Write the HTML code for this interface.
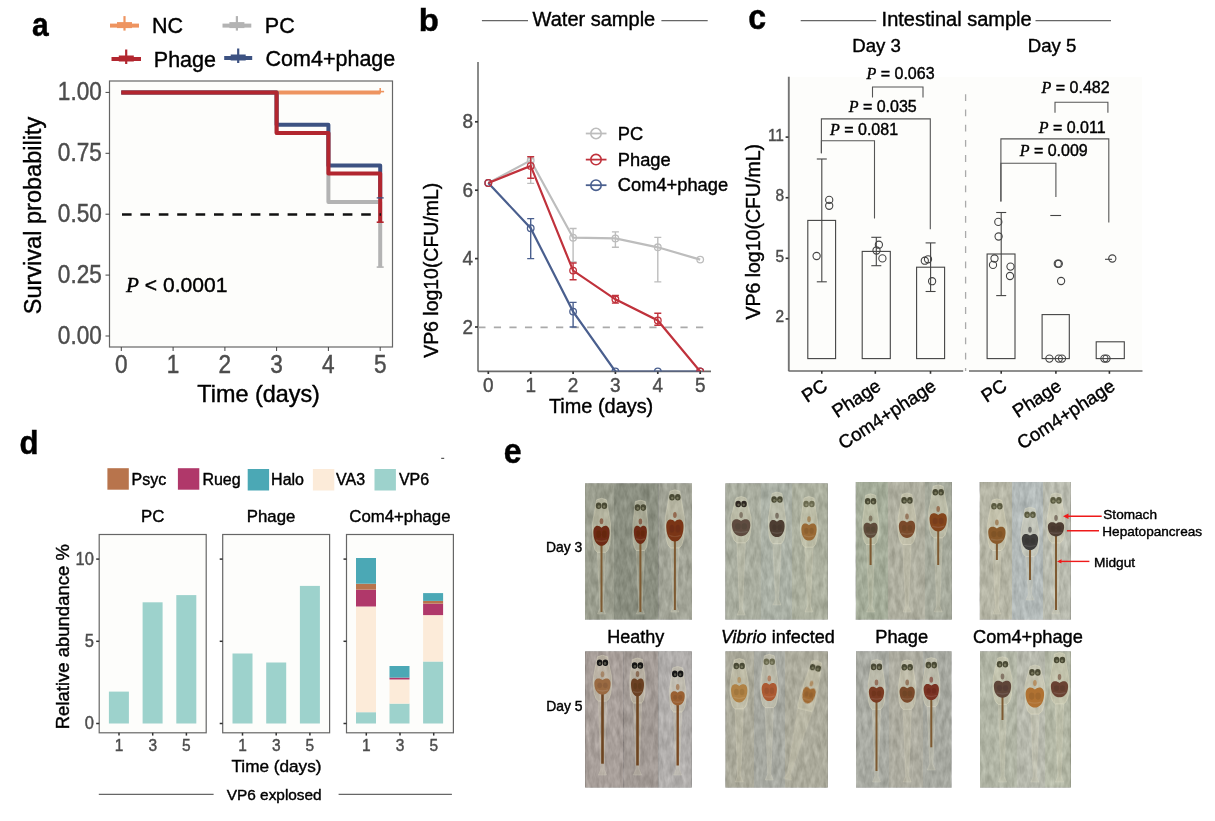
<!DOCTYPE html>
<html><head><meta charset="utf-8"><title>Figure</title>
<style>
html,body{margin:0;padding:0;background:#fff;}
svg{display:block;font-family:"Liberation Sans",Arial,sans-serif;}
</style></head><body>
<svg width="1215" height="821" viewBox="0 0 1215 821">
<rect width="1215" height="821" fill="#fff"/>
<text x="0" y="0" font-size="30" font-weight="bold" stroke="#000" stroke-width="0.4" transform="translate(31.9 36.3) scale(1.0 1.13)">a</text>
<text x="0" y="0" font-size="30" font-weight="bold" stroke="#000" stroke-width="0.4" transform="translate(418.7 30.6) scale(1.1 1.07)">b</text>
<text x="0" y="0" font-size="30" font-weight="bold" stroke="#000" stroke-width="0.4" transform="translate(748.2 29.3) scale(1.07 1.16)">c</text>
<text x="0" y="0" font-size="30" font-weight="bold" stroke="#000" stroke-width="0.4" transform="translate(19.6 453.6) scale(1.04 1.08)">d</text>
<text x="0" y="0" font-size="30" font-weight="bold" stroke="#000" stroke-width="0.4" transform="translate(503.7 463.4) scale(1.07 1.14)">e</text>
<rect x="109.5" y="81.0" width="283.0" height="266.0" fill="#fdfdfb" stroke="#666" stroke-width="1.2"/>
<line x1="105.5" y1="92.4" x2="109.5" y2="92.4" stroke="#444" stroke-width="1"/>
<text x="0" y="0" font-size="22.6" fill="#4d4d4d" stroke="#4d4d4d" stroke-width="0.4" text-anchor="end" transform="translate(101.8 100.0) scale(1 1.12)">1.00</text>
<line x1="105.5" y1="153.3" x2="109.5" y2="153.3" stroke="#444" stroke-width="1"/>
<text x="0" y="0" font-size="22.6" fill="#4d4d4d" stroke="#4d4d4d" stroke-width="0.4" text-anchor="end" transform="translate(101.8 160.9) scale(1 1.12)">0.75</text>
<line x1="105.5" y1="214.2" x2="109.5" y2="214.2" stroke="#444" stroke-width="1"/>
<text x="0" y="0" font-size="22.6" fill="#4d4d4d" stroke="#4d4d4d" stroke-width="0.4" text-anchor="end" transform="translate(101.8 221.8) scale(1 1.12)">0.50</text>
<line x1="105.5" y1="275.1" x2="109.5" y2="275.1" stroke="#444" stroke-width="1"/>
<text x="0" y="0" font-size="22.6" fill="#4d4d4d" stroke="#4d4d4d" stroke-width="0.4" text-anchor="end" transform="translate(101.8 282.7) scale(1 1.12)">0.25</text>
<line x1="105.5" y1="336.0" x2="109.5" y2="336.0" stroke="#444" stroke-width="1"/>
<text x="0" y="0" font-size="22.6" fill="#4d4d4d" stroke="#4d4d4d" stroke-width="0.4" text-anchor="end" transform="translate(101.8 343.6) scale(1 1.12)">0.00</text>
<line x1="121.3" y1="347.0" x2="121.3" y2="351.0" stroke="#444" stroke-width="1"/>
<text x="0" y="0" font-size="22.6" fill="#4d4d4d" stroke="#4d4d4d" stroke-width="0.4" text-anchor="middle" transform="translate(121.3 373.2) scale(1 1.12)">0</text>
<line x1="173.1" y1="347.0" x2="173.1" y2="351.0" stroke="#444" stroke-width="1"/>
<text x="0" y="0" font-size="22.6" fill="#4d4d4d" stroke="#4d4d4d" stroke-width="0.4" text-anchor="middle" transform="translate(173.1 373.2) scale(1 1.12)">1</text>
<line x1="224.9" y1="347.0" x2="224.9" y2="351.0" stroke="#444" stroke-width="1"/>
<text x="0" y="0" font-size="22.6" fill="#4d4d4d" stroke="#4d4d4d" stroke-width="0.4" text-anchor="middle" transform="translate(224.9 373.2) scale(1 1.12)">2</text>
<line x1="276.6" y1="347.0" x2="276.6" y2="351.0" stroke="#444" stroke-width="1"/>
<text x="0" y="0" font-size="22.6" fill="#4d4d4d" stroke="#4d4d4d" stroke-width="0.4" text-anchor="middle" transform="translate(276.6 373.2) scale(1 1.12)">3</text>
<line x1="328.4" y1="347.0" x2="328.4" y2="351.0" stroke="#444" stroke-width="1"/>
<text x="0" y="0" font-size="22.6" fill="#4d4d4d" stroke="#4d4d4d" stroke-width="0.4" text-anchor="middle" transform="translate(328.4 373.2) scale(1 1.12)">4</text>
<line x1="380.2" y1="347.0" x2="380.2" y2="351.0" stroke="#444" stroke-width="1"/>
<text x="0" y="0" font-size="22.6" fill="#4d4d4d" stroke="#4d4d4d" stroke-width="0.4" text-anchor="middle" transform="translate(380.2 373.2) scale(1 1.12)">5</text>
<text x="258.6" y="401.6" font-size="23.4" stroke="#000" stroke-width="0.4" text-anchor="middle">Time (days)</text>
<text x="40.5" y="215.5" font-size="23.55" stroke="#000" stroke-width="0.4" text-anchor="middle" transform="rotate(-90 40.5 215.5)">Survival probability</text>
<polyline points="121.3,92.4 380.2,92.4" fill="none" stroke="#ee9460" stroke-width="4"/>
<line x1="380.2" y1="87.9" x2="380.2" y2="93.4" stroke="#ee9460" stroke-width="1.6"/>
<line x1="378.5" y1="91.6" x2="384.1" y2="91.6" stroke="#ee9460" stroke-width="1.6"/>
<polyline points="121.3,92.4 276.6,92.4 276.6,133.1 328.4,133.1 328.4,202.0 380.2,202.0 380.2,267.1" fill="none" stroke="#b3b3b3" stroke-width="4" stroke-linejoin="round"/>
<polyline points="121.3,92.4 276.6,92.4 276.6,124.8 328.4,124.8 328.4,165.5 380.2,165.5 380.2,197.9" fill="none" stroke="#3d5282" stroke-width="4" stroke-linejoin="round"/>
<polyline points="121.3,92.4 276.6,92.4 276.6,133.1 328.4,133.1 328.4,173.5 380.2,173.5 380.2,222.2" fill="none" stroke="#b2262f" stroke-width="4" stroke-linejoin="round"/>
<line x1="376.7" y1="267.1" x2="383.7" y2="267.1" stroke="#b3b3b3" stroke-width="1.6"/>
<line x1="376.7" y1="197.9" x2="383.7" y2="197.9" stroke="#3d5282" stroke-width="1.3"/>
<line x1="376.7" y1="222.2" x2="383.7" y2="222.2" stroke="#b2262f" stroke-width="1.6"/>
<line x1="122.0" y1="214.5" x2="381.0" y2="214.5" stroke="#111" stroke-width="2.6" stroke-dasharray="9.6 8.8"/>
<text x="126" y="292" font-size="21.1" stroke="#000" stroke-width="0.4"><tspan font-family="Liberation Serif, Times New Roman, serif" font-style="italic">P</tspan> &lt; 0.0001</text>
<line x1="110.0" y1="25.6" x2="139.0" y2="25.6" stroke="#ee9460" stroke-width="4"/>
<line x1="117.0" y1="25.1" x2="132.0" y2="25.1" stroke="#ee9460" stroke-width="6"/>
<line x1="124.5" y1="16.1" x2="124.5" y2="30.6" stroke="#ee9460" stroke-width="2.2"/>
<text x="152.0" y="33.4" font-size="21.5" stroke="#000" stroke-width="0.4">NC</text>
<line x1="222.5" y1="25.6" x2="251.3" y2="25.6" stroke="#b3b3b3" stroke-width="4"/>
<line x1="229.4" y1="25.1" x2="244.4" y2="25.1" stroke="#b3b3b3" stroke-width="6"/>
<line x1="236.9" y1="16.1" x2="236.9" y2="30.6" stroke="#b3b3b3" stroke-width="2.2"/>
<text x="264.8" y="33.4" font-size="21.5" stroke="#000" stroke-width="0.4">PC</text>
<line x1="111.5" y1="59.0" x2="141.0" y2="59.0" stroke="#b2262f" stroke-width="4"/>
<line x1="118.8" y1="58.5" x2="133.8" y2="58.5" stroke="#b2262f" stroke-width="6"/>
<line x1="126.2" y1="49.5" x2="126.2" y2="64.0" stroke="#b2262f" stroke-width="2.2"/>
<text x="153.8" y="66.5" font-size="21.5" stroke="#000" stroke-width="0.4">Phage</text>
<line x1="224.2" y1="58.0" x2="252.2" y2="58.0" stroke="#3d5282" stroke-width="4"/>
<line x1="230.7" y1="57.5" x2="245.7" y2="57.5" stroke="#3d5282" stroke-width="6"/>
<line x1="238.2" y1="48.5" x2="238.2" y2="63.0" stroke="#3d5282" stroke-width="2.2"/>
<text x="265.6" y="66.2" font-size="21.5" stroke="#000" stroke-width="0.4">Com4+phage</text>
<line x1="481.9" y1="20.6" x2="528.0" y2="20.6" stroke="#666" stroke-width="1.3"/>
<line x1="661.4" y1="20.6" x2="707.7" y2="20.6" stroke="#666" stroke-width="1.3"/>
<text x="532.6" y="26.3" font-size="20" stroke="#000" stroke-width="0.4">Water sample</text>
<line x1="478.0" y1="62.0" x2="478.0" y2="371.4" stroke="#8a8b8a" stroke-width="2"/>
<line x1="478.0" y1="371.4" x2="711.0" y2="371.4" stroke="#6a6a6a" stroke-width="1.6"/>
<line x1="475.0" y1="327.0" x2="478.0" y2="327.0" stroke="#333" stroke-width="1.7"/>
<text x="0" y="0" font-size="19" fill="#4d4d4d" stroke="#4d4d4d" stroke-width="0.4" text-anchor="end" transform="translate(473.0 333.6) scale(1 1.1)">2</text>
<line x1="475.0" y1="258.6" x2="478.0" y2="258.6" stroke="#333" stroke-width="1.7"/>
<text x="0" y="0" font-size="19" fill="#4d4d4d" stroke="#4d4d4d" stroke-width="0.4" text-anchor="end" transform="translate(473.0 265.2) scale(1 1.1)">4</text>
<line x1="475.0" y1="190.2" x2="478.0" y2="190.2" stroke="#333" stroke-width="1.7"/>
<text x="0" y="0" font-size="19" fill="#4d4d4d" stroke="#4d4d4d" stroke-width="0.4" text-anchor="end" transform="translate(473.0 196.8) scale(1 1.1)">6</text>
<line x1="475.0" y1="121.8" x2="478.0" y2="121.8" stroke="#333" stroke-width="1.7"/>
<text x="0" y="0" font-size="19" fill="#4d4d4d" stroke="#4d4d4d" stroke-width="0.4" text-anchor="end" transform="translate(473.0 128.4) scale(1 1.1)">8</text>
<line x1="488.3" y1="371.4" x2="488.3" y2="374.0" stroke="#333" stroke-width="1.7"/>
<text x="0" y="0" font-size="19" fill="#4d4d4d" stroke="#4d4d4d" stroke-width="0.4" text-anchor="middle" transform="translate(488.3 392.3) scale(1 1.1)">0</text>
<line x1="530.7" y1="371.4" x2="530.7" y2="374.0" stroke="#333" stroke-width="1.7"/>
<text x="0" y="0" font-size="19" fill="#4d4d4d" stroke="#4d4d4d" stroke-width="0.4" text-anchor="middle" transform="translate(530.7 392.3) scale(1 1.1)">1</text>
<line x1="573.1" y1="371.4" x2="573.1" y2="374.0" stroke="#333" stroke-width="1.7"/>
<text x="0" y="0" font-size="19" fill="#4d4d4d" stroke="#4d4d4d" stroke-width="0.4" text-anchor="middle" transform="translate(573.1 392.3) scale(1 1.1)">2</text>
<line x1="615.4" y1="371.4" x2="615.4" y2="374.0" stroke="#333" stroke-width="1.7"/>
<text x="0" y="0" font-size="19" fill="#4d4d4d" stroke="#4d4d4d" stroke-width="0.4" text-anchor="middle" transform="translate(615.4 392.3) scale(1 1.1)">3</text>
<line x1="657.8" y1="371.4" x2="657.8" y2="374.0" stroke="#333" stroke-width="1.7"/>
<text x="0" y="0" font-size="19" fill="#4d4d4d" stroke="#4d4d4d" stroke-width="0.4" text-anchor="middle" transform="translate(657.8 392.3) scale(1 1.1)">4</text>
<line x1="700.2" y1="371.4" x2="700.2" y2="374.0" stroke="#333" stroke-width="1.7"/>
<text x="0" y="0" font-size="19" fill="#4d4d4d" stroke="#4d4d4d" stroke-width="0.4" text-anchor="middle" transform="translate(700.2 392.3) scale(1 1.1)">5</text>
<text x="601.1" y="413.3" font-size="19.9" stroke="#000" stroke-width="0.4" text-anchor="middle">Time (days)</text>
<text x="438.4" y="270.3" font-size="19.45" stroke="#000" stroke-width="0.4" text-anchor="middle" transform="rotate(-90 438.4 270.3)">VP6 log10(CFU/mL)</text>
<line x1="478.3" y1="327.3" x2="711.0" y2="327.3" stroke="#aaa" stroke-width="1.7" stroke-dasharray="7.2 8.35"/>
<clipPath id="cb"><rect x="470" y="50" width="260" height="321.6"/></clipPath><g clip-path="url(#cb)">
<line x1="530.7" y1="158.7" x2="530.7" y2="183.4" stroke="#bdbdbd" stroke-width="1.4"/>
<line x1="527.2" y1="158.7" x2="534.2" y2="158.7" stroke="#bdbdbd" stroke-width="1.4"/>
<line x1="527.2" y1="183.4" x2="534.2" y2="183.4" stroke="#bdbdbd" stroke-width="1.4"/>
<line x1="573.1" y1="228.5" x2="573.1" y2="262.0" stroke="#bdbdbd" stroke-width="1.4"/>
<line x1="569.6" y1="228.5" x2="576.6" y2="228.5" stroke="#bdbdbd" stroke-width="1.4"/>
<line x1="569.6" y1="262.0" x2="576.6" y2="262.0" stroke="#bdbdbd" stroke-width="1.4"/>
<line x1="615.4" y1="231.9" x2="615.4" y2="247.3" stroke="#bdbdbd" stroke-width="1.4"/>
<line x1="611.9" y1="231.9" x2="618.9" y2="231.9" stroke="#bdbdbd" stroke-width="1.4"/>
<line x1="611.9" y1="247.3" x2="618.9" y2="247.3" stroke="#bdbdbd" stroke-width="1.4"/>
<line x1="657.8" y1="237.4" x2="657.8" y2="281.9" stroke="#bdbdbd" stroke-width="1.4"/>
<line x1="654.3" y1="237.4" x2="661.3" y2="237.4" stroke="#bdbdbd" stroke-width="1.4"/>
<line x1="654.3" y1="281.9" x2="661.3" y2="281.9" stroke="#bdbdbd" stroke-width="1.4"/>
<polyline points="488.3,183.0 530.7,160.4 573.1,237.7 615.4,238.4 657.8,247.3 700.2,259.6" fill="none" stroke="#bdbdbd" stroke-width="2.2"/>
<circle cx="488.3" cy="183.0" r="3.3" fill="none" stroke="#bdbdbd" stroke-width="1.3"/>
<circle cx="530.7" cy="160.4" r="3.3" fill="none" stroke="#bdbdbd" stroke-width="1.3"/>
<circle cx="573.1" cy="237.7" r="3.3" fill="none" stroke="#bdbdbd" stroke-width="1.3"/>
<circle cx="615.4" cy="238.4" r="3.3" fill="none" stroke="#bdbdbd" stroke-width="1.3"/>
<circle cx="657.8" cy="247.3" r="3.3" fill="none" stroke="#bdbdbd" stroke-width="1.3"/>
<circle cx="700.2" cy="259.6" r="3.3" fill="none" stroke="#bdbdbd" stroke-width="1.3"/>
<line x1="530.7" y1="218.6" x2="530.7" y2="258.6" stroke="#4a5f8e" stroke-width="1.4"/>
<line x1="527.2" y1="218.6" x2="534.2" y2="218.6" stroke="#4a5f8e" stroke-width="1.4"/>
<line x1="527.2" y1="258.6" x2="534.2" y2="258.6" stroke="#4a5f8e" stroke-width="1.4"/>
<line x1="573.1" y1="302.4" x2="573.1" y2="327.0" stroke="#4a5f8e" stroke-width="1.4"/>
<line x1="569.6" y1="302.4" x2="576.6" y2="302.4" stroke="#4a5f8e" stroke-width="1.4"/>
<line x1="569.6" y1="327.0" x2="576.6" y2="327.0" stroke="#4a5f8e" stroke-width="1.4"/>
<polyline points="488.3,183.0 530.7,228.2 573.1,311.6 615.4,371.5 657.8,371.5 700.2,371.5" fill="none" stroke="#4a5f8e" stroke-width="2.2"/>
<circle cx="488.3" cy="183.0" r="3.3" fill="none" stroke="#4a5f8e" stroke-width="1.3"/>
<circle cx="530.7" cy="228.2" r="3.3" fill="none" stroke="#4a5f8e" stroke-width="1.3"/>
<circle cx="573.1" cy="311.6" r="3.3" fill="none" stroke="#4a5f8e" stroke-width="1.3"/>
<circle cx="615.4" cy="371.5" r="3.3" fill="none" stroke="#4a5f8e" stroke-width="1.3"/>
<circle cx="657.8" cy="371.5" r="3.3" fill="none" stroke="#4a5f8e" stroke-width="1.3"/>
<circle cx="700.2" cy="371.5" r="3.3" fill="none" stroke="#4a5f8e" stroke-width="1.3"/>
<line x1="530.7" y1="156.7" x2="530.7" y2="178.2" stroke="#c0323c" stroke-width="1.4"/>
<line x1="527.2" y1="156.7" x2="534.2" y2="156.7" stroke="#c0323c" stroke-width="1.4"/>
<line x1="527.2" y1="178.2" x2="534.2" y2="178.2" stroke="#c0323c" stroke-width="1.4"/>
<line x1="573.1" y1="263.0" x2="573.1" y2="279.8" stroke="#c0323c" stroke-width="1.4"/>
<line x1="569.6" y1="263.0" x2="576.6" y2="263.0" stroke="#c0323c" stroke-width="1.4"/>
<line x1="569.6" y1="279.8" x2="576.6" y2="279.8" stroke="#c0323c" stroke-width="1.4"/>
<line x1="615.4" y1="295.5" x2="615.4" y2="303.1" stroke="#c0323c" stroke-width="1.4"/>
<line x1="611.9" y1="295.5" x2="618.9" y2="295.5" stroke="#c0323c" stroke-width="1.4"/>
<line x1="611.9" y1="303.1" x2="618.9" y2="303.1" stroke="#c0323c" stroke-width="1.4"/>
<line x1="657.8" y1="313.3" x2="657.8" y2="325.3" stroke="#c0323c" stroke-width="1.4"/>
<line x1="654.3" y1="313.3" x2="661.3" y2="313.3" stroke="#c0323c" stroke-width="1.4"/>
<line x1="654.3" y1="325.3" x2="661.3" y2="325.3" stroke="#c0323c" stroke-width="1.4"/>
<polyline points="488.3,183.0 530.7,165.9 573.1,270.6 615.4,299.3 657.8,320.5 700.2,371.5" fill="none" stroke="#c0323c" stroke-width="2.2"/>
<circle cx="488.3" cy="183.0" r="3.3" fill="none" stroke="#c0323c" stroke-width="1.3"/>
<circle cx="530.7" cy="165.9" r="3.3" fill="none" stroke="#c0323c" stroke-width="1.3"/>
<circle cx="573.1" cy="270.6" r="3.3" fill="none" stroke="#c0323c" stroke-width="1.3"/>
<circle cx="615.4" cy="299.3" r="3.3" fill="none" stroke="#c0323c" stroke-width="1.3"/>
<circle cx="657.8" cy="320.5" r="3.3" fill="none" stroke="#c0323c" stroke-width="1.3"/>
<circle cx="700.2" cy="371.5" r="3.3" fill="none" stroke="#c0323c" stroke-width="1.3"/>
</g>
<line x1="585.8" y1="133.5" x2="606.5" y2="133.5" stroke="#bdbdbd" stroke-width="1.8"/>
<circle cx="596.0" cy="133.5" r="5.2" fill="none" stroke="#bdbdbd" stroke-width="1.6"/>
<text x="617.8" y="139.7" font-size="18.3" stroke="#000" stroke-width="0.4">PC</text>
<line x1="585.8" y1="159.6" x2="606.5" y2="159.6" stroke="#c0323c" stroke-width="1.8"/>
<circle cx="596.0" cy="159.6" r="5.2" fill="none" stroke="#c0323c" stroke-width="1.6"/>
<text x="617.8" y="165.8" font-size="18.3" stroke="#000" stroke-width="0.4">Phage</text>
<line x1="585.8" y1="185.2" x2="606.5" y2="185.2" stroke="#4a5f8e" stroke-width="1.8"/>
<circle cx="596.0" cy="185.2" r="5.2" fill="none" stroke="#4a5f8e" stroke-width="1.6"/>
<text x="617.8" y="191.4" font-size="18.3" stroke="#000" stroke-width="0.4">Com4+phage</text>
<line x1="800.7" y1="20.7" x2="876.2" y2="20.7" stroke="#666" stroke-width="1.3"/>
<line x1="1035.5" y1="20.7" x2="1111.0" y2="20.7" stroke="#666" stroke-width="1.3"/>
<text x="881.6" y="25.8" font-size="20" stroke="#000" stroke-width="0.4">Intestinal sample</text>
<text x="876.5" y="51.9" font-size="18.6" stroke="#000" stroke-width="0.4" text-anchor="middle">Day 3</text>
<text x="1052.0" y="51.9" font-size="18.6" stroke="#000" stroke-width="0.4" text-anchor="middle">Day 5</text>
<rect x="789.0" y="77.0" width="353.0" height="294.0" fill="#fdfdfb"/>
<line x1="788.8" y1="76.8" x2="788.8" y2="371.0" stroke="#747474" stroke-width="1.9"/>
<line x1="788.5" y1="371.0" x2="963.2" y2="371.0" stroke="#6a6a6a" stroke-width="1.6"/>
<line x1="969.0" y1="371.0" x2="1142.5" y2="371.0" stroke="#6a6a6a" stroke-width="1.6"/>
<line x1="785.6" y1="318.9" x2="788.5" y2="318.9" stroke="#333" stroke-width="1.6"/>
<text x="0" y="0" font-size="15.5" fill="#4d4d4d" stroke="#4d4d4d" stroke-width="0.4" text-anchor="end" transform="translate(784.0 322.3) scale(1 1.08)">2</text>
<line x1="785.6" y1="258.3" x2="788.5" y2="258.3" stroke="#333" stroke-width="1.6"/>
<text x="0" y="0" font-size="15.5" fill="#4d4d4d" stroke="#4d4d4d" stroke-width="0.4" text-anchor="end" transform="translate(784.0 261.7) scale(1 1.08)">5</text>
<line x1="785.6" y1="197.7" x2="788.5" y2="197.7" stroke="#333" stroke-width="1.6"/>
<text x="0" y="0" font-size="15.5" fill="#4d4d4d" stroke="#4d4d4d" stroke-width="0.4" text-anchor="end" transform="translate(784.0 201.1) scale(1 1.08)">8</text>
<line x1="785.6" y1="137.1" x2="788.5" y2="137.1" stroke="#333" stroke-width="1.6"/>
<text x="0" y="0" font-size="15.5" fill="#4d4d4d" stroke="#4d4d4d" stroke-width="0.4" text-anchor="end" transform="translate(784.0 140.5) scale(1 1.08)">11</text>
<text x="759.6" y="231.8" font-size="19.5" stroke="#000" stroke-width="0.4" text-anchor="middle" transform="rotate(-90 759.6 231.8)">VP6 log10(CFU/mL)</text>
<line x1="965.6" y1="94.3" x2="965.6" y2="371.0" stroke="#aaa" stroke-width="1.3" stroke-dasharray="6.8 8.4"/>
<line x1="821.8" y1="371.0" x2="821.8" y2="373.8" stroke="#333" stroke-width="1.6"/>
<line x1="875.3" y1="371.0" x2="875.3" y2="373.8" stroke="#333" stroke-width="1.6"/>
<line x1="930.5" y1="371.0" x2="930.5" y2="373.8" stroke="#333" stroke-width="1.6"/>
<line x1="1001.2" y1="371.0" x2="1001.2" y2="373.8" stroke="#333" stroke-width="1.6"/>
<line x1="1055.9" y1="371.0" x2="1055.9" y2="373.8" stroke="#333" stroke-width="1.6"/>
<line x1="1109.4" y1="371.0" x2="1109.4" y2="373.8" stroke="#333" stroke-width="1.6"/>
<rect x="807.8" y="220.4" width="27.8" height="138.2" fill="none" stroke="#444" stroke-width="1.1"/>
<line x1="821.8" y1="159.0" x2="821.8" y2="281.8" stroke="#444" stroke-width="1.1"/>
<line x1="816.8" y1="159.0" x2="826.8" y2="159.0" stroke="#444" stroke-width="1.1"/>
<line x1="816.8" y1="281.8" x2="826.8" y2="281.8" stroke="#444" stroke-width="1.1"/>
<rect x="862.2" y="251.4" width="28.1" height="107.2" fill="none" stroke="#444" stroke-width="1.1"/>
<line x1="876.3" y1="237.3" x2="876.3" y2="265.7" stroke="#444" stroke-width="1.1"/>
<line x1="871.3" y1="237.3" x2="881.3" y2="237.3" stroke="#444" stroke-width="1.1"/>
<line x1="871.3" y1="265.7" x2="881.3" y2="265.7" stroke="#444" stroke-width="1.1"/>
<rect x="916.6" y="267.2" width="28.0" height="91.4" fill="none" stroke="#444" stroke-width="1.1"/>
<line x1="930.6" y1="242.9" x2="930.6" y2="291.5" stroke="#444" stroke-width="1.1"/>
<line x1="925.6" y1="242.9" x2="935.6" y2="242.9" stroke="#444" stroke-width="1.1"/>
<line x1="925.6" y1="291.5" x2="935.6" y2="291.5" stroke="#444" stroke-width="1.1"/>
<rect x="987.1" y="254.0" width="27.9" height="104.6" fill="none" stroke="#444" stroke-width="1.1"/>
<line x1="1001.2" y1="212.5" x2="1001.2" y2="295.6" stroke="#444" stroke-width="1.1"/>
<line x1="996.2" y1="212.5" x2="1006.2" y2="212.5" stroke="#444" stroke-width="1.1"/>
<line x1="996.2" y1="295.6" x2="1006.2" y2="295.6" stroke="#444" stroke-width="1.1"/>
<rect x="1042.1" y="314.6" width="27.2" height="44.0" fill="none" stroke="#444" stroke-width="1.1"/>
<line x1="1050.3" y1="215.5" x2="1061.1" y2="215.5" stroke="#444" stroke-width="1.1"/>
<rect x="1096.2" y="341.8" width="28.1" height="16.8" fill="none" stroke="#444" stroke-width="1.1"/>
<line x1="1105.0" y1="259.3" x2="1112.0" y2="259.3" stroke="#444" stroke-width="1.1"/>
<circle cx="829.2" cy="199.9" r="3.6" fill="none" stroke="#444" stroke-width="1.1"/>
<circle cx="829.2" cy="205.8" r="3.6" fill="none" stroke="#444" stroke-width="1.1"/>
<circle cx="816.6" cy="256.0" r="3.6" fill="none" stroke="#444" stroke-width="1.1"/>
<circle cx="878.9" cy="244.7" r="3.6" fill="none" stroke="#444" stroke-width="1.1"/>
<circle cx="876.5" cy="250.5" r="3.6" fill="none" stroke="#444" stroke-width="1.1"/>
<circle cx="882.4" cy="258.4" r="3.6" fill="none" stroke="#444" stroke-width="1.1"/>
<circle cx="924.8" cy="260.7" r="3.6" fill="none" stroke="#444" stroke-width="1.1"/>
<circle cx="928.0" cy="259.3" r="3.6" fill="none" stroke="#444" stroke-width="1.1"/>
<circle cx="932.1" cy="281.2" r="3.6" fill="none" stroke="#444" stroke-width="1.1"/>
<circle cx="998.3" cy="221.9" r="3.6" fill="none" stroke="#444" stroke-width="1.1"/>
<circle cx="998.6" cy="236.5" r="3.6" fill="none" stroke="#444" stroke-width="1.1"/>
<circle cx="994.5" cy="258.5" r="3.6" fill="none" stroke="#444" stroke-width="1.1"/>
<circle cx="993.0" cy="264.9" r="3.6" fill="none" stroke="#444" stroke-width="1.1"/>
<circle cx="1010.5" cy="266.6" r="3.6" fill="none" stroke="#444" stroke-width="1.1"/>
<circle cx="1010.0" cy="276.0" r="3.6" fill="none" stroke="#444" stroke-width="1.1"/>
<circle cx="1058.8" cy="263.7" r="3.6" fill="none" stroke="#444" stroke-width="1.1"/>
<circle cx="1057.8" cy="263.7" r="3.6" fill="none" stroke="#444" stroke-width="1.1"/>
<circle cx="1061.1" cy="281.0" r="3.6" fill="none" stroke="#444" stroke-width="1.1"/>
<circle cx="1049.4" cy="358.6" r="3.6" fill="none" stroke="#444" stroke-width="1.1"/>
<circle cx="1058.8" cy="358.6" r="3.6" fill="none" stroke="#444" stroke-width="1.1"/>
<circle cx="1062.0" cy="358.6" r="3.6" fill="none" stroke="#444" stroke-width="1.1"/>
<circle cx="1112.3" cy="258.5" r="3.6" fill="none" stroke="#444" stroke-width="1.1"/>
<circle cx="1104.4" cy="358.6" r="3.6" fill="none" stroke="#444" stroke-width="1.1"/>
<circle cx="1106.5" cy="358.6" r="3.6" fill="none" stroke="#444" stroke-width="1.1"/>
<polyline points="872.5,97.5 872.5,87.0 923.0,87.0 923.0,97.5" fill="none" stroke="#555" stroke-width="1.1"/>
<polyline points="821.4,153.2 821.4,118.9 930.3,118.9 930.3,229.2" fill="none" stroke="#555" stroke-width="1.1"/>
<polyline points="821.4,153.2 821.4,140.8 874.5,140.8 874.5,218.4" fill="none" stroke="#555" stroke-width="1.1"/>
<polyline points="1055.0,112.8 1055.0,102.3 1107.9,102.3 1107.9,112.8" fill="none" stroke="#555" stroke-width="1.1"/>
<polyline points="1000.9,201.4 1000.9,138.9 1108.8,138.9 1108.8,222.5" fill="none" stroke="#555" stroke-width="1.1"/>
<polyline points="1000.9,201.4 1000.9,163.2 1055.9,163.2 1055.9,197.0" fill="none" stroke="#555" stroke-width="1.1"/>
<text x="866.5" y="79.2" font-size="16" stroke="#000" stroke-width="0.4"><tspan font-family="Liberation Serif, Times New Roman, serif" font-style="italic">P</tspan> = 0.063</text>
<text x="848.7" y="112.0" font-size="16" stroke="#000" stroke-width="0.4"><tspan font-family="Liberation Serif, Times New Roman, serif" font-style="italic">P</tspan> = 0.035</text>
<text x="830.0" y="135.2" font-size="16" stroke="#000" stroke-width="0.4"><tspan font-family="Liberation Serif, Times New Roman, serif" font-style="italic">P</tspan> = 0.081</text>
<text x="1041.6" y="93.3" font-size="16" stroke="#000" stroke-width="0.4"><tspan font-family="Liberation Serif, Times New Roman, serif" font-style="italic">P</tspan> = 0.482</text>
<text x="1038.7" y="132.8" font-size="16" stroke="#000" stroke-width="0.4"><tspan font-family="Liberation Serif, Times New Roman, serif" font-style="italic">P</tspan> = 0.011</text>
<text x="1019.7" y="155.9" font-size="16" stroke="#000" stroke-width="0.4"><tspan font-family="Liberation Serif, Times New Roman, serif" font-style="italic">P</tspan> = 0.009</text>
<text x="828.8" y="389.0" font-size="18.6" stroke="#000" stroke-width="0.4" text-anchor="end" transform="rotate(-33 828.8 389.0)">PC</text>
<text x="882.3" y="389.0" font-size="18.6" stroke="#000" stroke-width="0.4" text-anchor="end" transform="rotate(-33 882.3 389.0)">Phage</text>
<text x="937.5" y="389.0" font-size="18.6" stroke="#000" stroke-width="0.4" text-anchor="end" transform="rotate(-33 937.5 389.0)">Com4+phage</text>
<text x="1008.2" y="389.0" font-size="18.6" stroke="#000" stroke-width="0.4" text-anchor="end" transform="rotate(-33 1008.2 389.0)">PC</text>
<text x="1062.9" y="389.0" font-size="18.6" stroke="#000" stroke-width="0.4" text-anchor="end" transform="rotate(-33 1062.9 389.0)">Phage</text>
<text x="1116.4" y="389.0" font-size="18.6" stroke="#000" stroke-width="0.4" text-anchor="end" transform="rotate(-33 1116.4 389.0)">Com4+phage</text>
<rect x="107.4" y="468.2" width="21.4" height="21.5" fill="#b8744c"/>
<text x="131.6" y="484.7" font-size="16" stroke="#000" stroke-width="0.4">Psyc</text>
<rect x="177.9" y="468.2" width="21.4" height="21.5" fill="#b0386a"/>
<text x="202.4" y="484.7" font-size="16" stroke="#000" stroke-width="0.4">Rueg</text>
<rect x="247.7" y="469.0" width="21.4" height="21.5" fill="#4ba8b5"/>
<text x="271.1" y="484.7" font-size="16" stroke="#000" stroke-width="0.4">Halo</text>
<rect x="312.9" y="469.0" width="21.4" height="21.5" fill="#fcebd9"/>
<text x="336.0" y="484.7" font-size="16" stroke="#000" stroke-width="0.4">VA3</text>
<rect x="374.5" y="469.0" width="21.4" height="21.5" fill="#9dd2cc"/>
<text x="398.9" y="484.7" font-size="16" stroke="#000" stroke-width="0.4">VP6</text>
<line x1="441.2" y1="458.3" x2="444.2" y2="458.3" stroke="#333" stroke-width="1"/>
<rect x="99.2" y="534.5" width="107.0" height="198.3" fill="#fdfdfb" stroke="#666" stroke-width="1.2"/>
<text x="152.7" y="521.9" font-size="16.8" stroke="#000" stroke-width="0.4" text-anchor="middle">PC</text>
<line x1="96.2" y1="723.5" x2="99.2" y2="723.5" stroke="#333" stroke-width="1.5"/>
<line x1="96.2" y1="641.3" x2="99.2" y2="641.3" stroke="#333" stroke-width="1.5"/>
<line x1="96.2" y1="559.1" x2="99.2" y2="559.1" stroke="#333" stroke-width="1.5"/>
<line x1="119.0" y1="732.8" x2="119.0" y2="735.6" stroke="#333" stroke-width="1.5"/>
<text x="0" y="0" font-size="15.5" fill="#4d4d4d" stroke="#4d4d4d" stroke-width="0.4" text-anchor="middle" transform="translate(119.0 750.9) scale(1 1.1)">1</text>
<line x1="152.7" y1="732.8" x2="152.7" y2="735.6" stroke="#333" stroke-width="1.5"/>
<text x="0" y="0" font-size="15.5" fill="#4d4d4d" stroke="#4d4d4d" stroke-width="0.4" text-anchor="middle" transform="translate(152.7 750.9) scale(1 1.1)">3</text>
<line x1="186.4" y1="732.8" x2="186.4" y2="735.6" stroke="#333" stroke-width="1.5"/>
<text x="0" y="0" font-size="15.5" fill="#4d4d4d" stroke="#4d4d4d" stroke-width="0.4" text-anchor="middle" transform="translate(186.4 750.9) scale(1 1.1)">5</text>
<rect x="222.7" y="534.5" width="106.9" height="198.3" fill="#fdfdfb" stroke="#666" stroke-width="1.2"/>
<text x="271.1" y="521.9" font-size="16.8" stroke="#000" stroke-width="0.4" text-anchor="middle">Phage</text>
<line x1="219.7" y1="723.5" x2="222.7" y2="723.5" stroke="#333" stroke-width="1.5"/>
<line x1="219.7" y1="641.3" x2="222.7" y2="641.3" stroke="#333" stroke-width="1.5"/>
<line x1="219.7" y1="559.1" x2="222.7" y2="559.1" stroke="#333" stroke-width="1.5"/>
<line x1="242.5" y1="732.8" x2="242.5" y2="735.6" stroke="#333" stroke-width="1.5"/>
<text x="0" y="0" font-size="15.5" fill="#4d4d4d" stroke="#4d4d4d" stroke-width="0.4" text-anchor="middle" transform="translate(242.5 750.9) scale(1 1.1)">1</text>
<line x1="276.2" y1="732.8" x2="276.2" y2="735.6" stroke="#333" stroke-width="1.5"/>
<text x="0" y="0" font-size="15.5" fill="#4d4d4d" stroke="#4d4d4d" stroke-width="0.4" text-anchor="middle" transform="translate(276.2 750.9) scale(1 1.1)">3</text>
<line x1="309.9" y1="732.8" x2="309.9" y2="735.6" stroke="#333" stroke-width="1.5"/>
<text x="0" y="0" font-size="15.5" fill="#4d4d4d" stroke="#4d4d4d" stroke-width="0.4" text-anchor="middle" transform="translate(309.9 750.9) scale(1 1.1)">5</text>
<rect x="346.5" y="534.5" width="106.9" height="198.3" fill="#fdfdfb" stroke="#666" stroke-width="1.2"/>
<text x="399.9" y="521.9" font-size="16.8" stroke="#000" stroke-width="0.4" text-anchor="middle">Com4+phage</text>
<line x1="343.5" y1="723.5" x2="346.5" y2="723.5" stroke="#333" stroke-width="1.5"/>
<line x1="343.5" y1="641.3" x2="346.5" y2="641.3" stroke="#333" stroke-width="1.5"/>
<line x1="343.5" y1="559.1" x2="346.5" y2="559.1" stroke="#333" stroke-width="1.5"/>
<line x1="366.3" y1="732.8" x2="366.3" y2="735.6" stroke="#333" stroke-width="1.5"/>
<text x="0" y="0" font-size="15.5" fill="#4d4d4d" stroke="#4d4d4d" stroke-width="0.4" text-anchor="middle" transform="translate(366.3 750.9) scale(1 1.1)">1</text>
<line x1="400.0" y1="732.8" x2="400.0" y2="735.6" stroke="#333" stroke-width="1.5"/>
<text x="0" y="0" font-size="15.5" fill="#4d4d4d" stroke="#4d4d4d" stroke-width="0.4" text-anchor="middle" transform="translate(400.0 750.9) scale(1 1.1)">3</text>
<line x1="433.7" y1="732.8" x2="433.7" y2="735.6" stroke="#333" stroke-width="1.5"/>
<text x="0" y="0" font-size="15.5" fill="#4d4d4d" stroke="#4d4d4d" stroke-width="0.4" text-anchor="middle" transform="translate(433.7 750.9) scale(1 1.1)">5</text>
<text x="0" y="0" font-size="16.5" fill="#4d4d4d" stroke="#4d4d4d" stroke-width="0.4" text-anchor="end" transform="translate(93.8 729.1) scale(1 1.1)">0</text>
<text x="0" y="0" font-size="16.5" fill="#4d4d4d" stroke="#4d4d4d" stroke-width="0.4" text-anchor="end" transform="translate(93.8 646.9) scale(1 1.1)">5</text>
<text x="0" y="0" font-size="16.5" fill="#4d4d4d" stroke="#4d4d4d" stroke-width="0.4" text-anchor="end" transform="translate(93.8 564.7) scale(1 1.1)">10</text>
<rect x="108.9" y="691.6" width="20.0" height="31.9" fill="#9dd2cc"/>
<rect x="142.6" y="602.3" width="20.0" height="121.2" fill="#9dd2cc"/>
<rect x="176.3" y="595.1" width="20.0" height="128.4" fill="#9dd2cc"/>
<rect x="232.5" y="653.5" width="20.0" height="70.0" fill="#9dd2cc"/>
<rect x="266.2" y="662.5" width="20.0" height="61.0" fill="#9dd2cc"/>
<rect x="299.9" y="585.9" width="20.0" height="137.6" fill="#9dd2cc"/>
<rect x="356.0" y="712.2" width="20.0" height="11.3" fill="#9dd2cc"/>
<rect x="356.0" y="606.5" width="20.0" height="105.7" fill="#fcebd9"/>
<rect x="356.0" y="589.6" width="20.0" height="16.9" fill="#b0386a"/>
<rect x="356.0" y="583.7" width="20.0" height="5.9" fill="#b8744c"/>
<rect x="356.0" y="558.0" width="20.0" height="25.7" fill="#4ba8b5"/>
<rect x="389.5" y="703.6" width="20.0" height="19.9" fill="#9dd2cc"/>
<rect x="389.5" y="679.5" width="20.0" height="24.1" fill="#fcebd9"/>
<rect x="389.5" y="677.6" width="20.0" height="1.9" fill="#b0386a"/>
<rect x="389.5" y="666.0" width="20.0" height="11.6" fill="#4ba8b5"/>
<rect x="423.1" y="661.5" width="20.0" height="62.0" fill="#9dd2cc"/>
<rect x="423.1" y="615.1" width="20.0" height="46.4" fill="#fcebd9"/>
<rect x="423.1" y="603.6" width="20.0" height="11.5" fill="#b0386a"/>
<rect x="423.1" y="600.9" width="20.0" height="2.7" fill="#b8744c"/>
<rect x="423.1" y="593.1" width="20.0" height="7.8" fill="#4ba8b5"/>
<text x="276.5" y="771.9" font-size="17.2" stroke="#000" stroke-width="0.4" text-anchor="middle">Time (days)</text>
<text x="68.6" y="636.7" font-size="18.5" stroke="#000" stroke-width="0.4" text-anchor="middle" transform="rotate(-90 68.6 636.7)">Relative abundance %</text>
<line x1="98.8" y1="794.3" x2="213.6" y2="794.3" stroke="#666" stroke-width="1.2"/>
<line x1="338.6" y1="794.3" x2="451.9" y2="794.3" stroke="#666" stroke-width="1.2"/>
<text x="274.2" y="800.2" font-size="15.4" stroke="#000" stroke-width="0.4" text-anchor="middle">VP6 explosed</text>
<text x="545.9" y="552.1" font-size="13.9" stroke="#000" stroke-width="0.4">Day 3</text>
<text x="546.3" y="710.5" font-size="13.9" stroke="#000" stroke-width="0.4">Day 5</text>
<text x="635.7" y="642.5" font-size="18" stroke="#000" stroke-width="0.4" text-anchor="middle">Heathy</text>
<text x="777.8" y="642.5" font-size="18" text-anchor="middle" stroke="#000" stroke-width="0.4"><tspan font-style="italic">Vibrio</tspan> infected</text>
<text x="901.7" y="642.5" font-size="18.3" stroke="#000" stroke-width="0.4" text-anchor="middle">Phage</text>
<text x="1027.9" y="642.5" font-size="18.2" stroke="#000" stroke-width="0.4" text-anchor="middle">Com4+phage</text>
<defs>
<filter id="tex" x="0" y="0" width="100%" height="100%" color-interpolation-filters="sRGB"><feTurbulence type="fractalNoise" baseFrequency="0.22 0.08" numOctaves="3" seed="7" result="n"/>
<feColorMatrix in="n" type="matrix" values="1 0 0 0 0  1 0 0 0 0  1 0 0 0 0  0 0 0 0 1" result="g"/>
<feComposite in="SourceGraphic" in2="g" operator="arithmetic" k1="0" k2="1" k3="0.22" k4="-0.11"/></filter>
<filter id="soft" x="-30%" y="-10%" width="160%" height="120%"><feGaussianBlur stdDeviation="0.6"/></filter>
</defs>
<g><rect x="585.0" y="483.4" width="29.0" height="136.1" fill="#9a9d8e" filter="url(#tex)"/><rect x="614.0" y="483.4" width="44.5" height="136.1" fill="#8a8e80" filter="url(#tex)"/><rect x="658.5" y="483.4" width="33.5" height="136.1" fill="#a2a497" filter="url(#tex)"/><g filter="url(#soft)"><path d="M596.5,499.8 Q601.5,496.8 606.5,499.8 L610.5,523.3 Q611.5,549.3 605.7,552.3 L597.3,552.3 Q591.5,549.3 592.5,523.3 Z" fill="#e2dcbc" fill-opacity="0.32" stroke="#ece8d2" stroke-opacity="0.3" stroke-width="1"/><path d="M605.7,552.3 L603.1,608.0 L605.5,614.0 L597.5,614.0 L599.9,608.0 L597.3,552.3 Z" fill="#e2dcbc" fill-opacity="0.2" stroke="#ece8d2" stroke-opacity="0.2" stroke-width="1"/><path d="M601.5,535.3 L601.5,612.0" stroke="#7e5a30" stroke-width="2" fill="none"/><path d="M601.5,527.7 C598.3,524.3 593.0,524.8 593.4,533.2 C593.8,541.6 597.5,545.8 601.5,545.8 C605.5,545.8 609.2,541.6 609.6,533.2 C610.0,524.8 604.7,524.3 601.5,527.7 Z" fill="#6e2c12"/><path d="M595.8,540.0 Q601.5,542.6 607.2,540.0" stroke="#ffffff" stroke-opacity="0.1" stroke-width="1.4" fill="none"/><ellipse cx="598.7" cy="534.2" rx="2.4" ry="3.7" fill="#000" fill-opacity="0.08"/><ellipse cx="604.3" cy="534.2" rx="2.4" ry="3.7" fill="#000" fill-opacity="0.08"/><ellipse cx="601.5" cy="521.3" rx="1.8" ry="3" fill="#6e2c12" fill-opacity="0.6"/><ellipse cx="598.6" cy="505.8" rx="2.8" ry="3.3" fill="#4a4a34"/><ellipse cx="604.4" cy="505.8" rx="2.8" ry="3.3" fill="#4a4a34"/><ellipse cx="598.9" cy="506.6" rx="1.2" ry="1.4" fill="#c8c8a8" fill-opacity="0.35"/><ellipse cx="604.1" cy="506.6" rx="1.2" ry="1.4" fill="#c8c8a8" fill-opacity="0.35"/></g><g filter="url(#soft)"><path d="M635.4,501.6 Q640.4,498.6 645.4,501.6 L647.9,523.4 Q648.9,547.4 644.6,550.4 L636.2,550.4 Q631.9,547.4 632.9,523.4 Z" fill="#e2dcbc" fill-opacity="0.32" stroke="#ece8d2" stroke-opacity="0.3" stroke-width="1"/><path d="M644.6,550.4 L642.0,608.0 L644.4,614.0 L636.4,614.0 L638.8,608.0 L636.2,550.4 Z" fill="#e2dcbc" fill-opacity="0.2" stroke="#ece8d2" stroke-opacity="0.2" stroke-width="1"/><path d="M640.4,534.4 L640.4,612.0" stroke="#7e5a30" stroke-width="2" fill="none"/><path d="M640.4,527.6 C637.8,524.5 633.6,524.9 633.9,532.5 C634.2,540.1 637.2,543.9 640.4,543.9 C643.6,543.9 646.6,540.1 646.9,532.5 C647.2,524.9 643.0,524.5 640.4,527.6 Z" fill="#6e2c12"/><path d="M635.9,538.7 Q640.4,541.0 644.9,538.7" stroke="#ffffff" stroke-opacity="0.1" stroke-width="1.4" fill="none"/><ellipse cx="638.1" cy="533.5" rx="1.9" ry="3.3" fill="#000" fill-opacity="0.08"/><ellipse cx="642.7" cy="533.5" rx="1.9" ry="3.3" fill="#000" fill-opacity="0.08"/><ellipse cx="640.4" cy="521.4" rx="1.8" ry="3" fill="#6e2c12" fill-opacity="0.6"/><ellipse cx="637.5" cy="507.6" rx="2.8" ry="3.3" fill="#4a4a34"/><ellipse cx="643.3" cy="507.6" rx="2.8" ry="3.3" fill="#4a4a34"/><ellipse cx="637.8" cy="508.4" rx="1.2" ry="1.4" fill="#c8c8a8" fill-opacity="0.35"/><ellipse cx="643.0" cy="508.4" rx="1.2" ry="1.4" fill="#c8c8a8" fill-opacity="0.35"/></g><g filter="url(#soft)"><path d="M669.9,491.3 Q674.9,488.3 679.9,491.3 L684.4,517.0 Q685.4,545.0 679.1,548.0 L670.7,548.0 Q664.4,545.0 665.4,517.0 Z" fill="#e2dcbc" fill-opacity="0.32" stroke="#ece8d2" stroke-opacity="0.3" stroke-width="1"/><path d="M679.1,548.0 L676.5,606.0 L678.9,612.0 L670.9,612.0 L673.3,606.0 L670.7,548.0 Z" fill="#e2dcbc" fill-opacity="0.2" stroke="#ece8d2" stroke-opacity="0.2" stroke-width="1"/><path d="M674.9,530.0 L674.9,610.0" stroke="#7e5a30" stroke-width="2" fill="none"/><path d="M674.9,521.7 C671.4,517.9 665.8,518.5 666.3,527.7 C666.7,536.9 670.6,541.5 674.9,541.5 C679.2,541.5 683.1,536.9 683.5,527.7 C684.0,518.5 678.4,517.9 674.9,521.7 Z" fill="#7a3414"/><path d="M668.9,535.2 Q674.9,538.1 680.9,535.2" stroke="#ffffff" stroke-opacity="0.1" stroke-width="1.4" fill="none"/><ellipse cx="671.9" cy="528.8" rx="2.6" ry="4.0" fill="#000" fill-opacity="0.08"/><ellipse cx="677.9" cy="528.8" rx="2.6" ry="4.0" fill="#000" fill-opacity="0.08"/><ellipse cx="674.9" cy="515.0" rx="1.8" ry="3" fill="#7a3414" fill-opacity="0.6"/><ellipse cx="672.0" cy="497.3" rx="2.8" ry="3.3" fill="#4a4a34"/><ellipse cx="677.8" cy="497.3" rx="2.8" ry="3.3" fill="#4a4a34"/><ellipse cx="672.3" cy="498.1" rx="1.2" ry="1.4" fill="#c8c8a8" fill-opacity="0.35"/><ellipse cx="677.5" cy="498.1" rx="1.2" ry="1.4" fill="#c8c8a8" fill-opacity="0.35"/></g></g>
<g><rect x="725.4" y="483.4" width="35.6" height="136.1" fill="#a9ad9f" filter="url(#tex)"/><rect x="761.0" y="483.4" width="31.0" height="136.1" fill="#aab0a5" filter="url(#tex)"/><rect x="792.0" y="483.4" width="35.8" height="136.1" fill="#abaf9e" filter="url(#tex)"/><g filter="url(#soft)"><path d="M736.1,498.0 Q741.1,495.0 746.1,498.0 L751.1,516.8 Q752.1,539.8 745.3,542.8 L736.9,542.8 Q730.1,539.8 731.1,516.8 Z" fill="#e2dcbc" fill-opacity="0.32" stroke="#ece8d2" stroke-opacity="0.3" stroke-width="1"/><path d="M745.3,542.8 L742.7,609.0 L745.1,615.0 L737.1,615.0 L739.5,609.0 L736.9,542.8 Z" fill="#e2dcbc" fill-opacity="0.2" stroke="#ece8d2" stroke-opacity="0.2" stroke-width="1"/><path d="M741.1,520.9 C737.4,517.9 731.5,518.4 731.9,525.5 C732.4,532.7 736.5,536.2 741.1,536.2 C745.7,536.2 749.8,532.7 750.3,525.5 C750.7,518.4 744.8,517.9 741.1,520.9 Z" fill="#5e4c40"/><path d="M734.7,531.3 Q741.1,533.5 747.5,531.3" stroke="#ffffff" stroke-opacity="0.1" stroke-width="1.4" fill="none"/><ellipse cx="737.9" cy="526.4" rx="2.8" ry="3.1" fill="#000" fill-opacity="0.08"/><ellipse cx="744.3" cy="526.4" rx="2.8" ry="3.1" fill="#000" fill-opacity="0.08"/><ellipse cx="741.1" cy="514.9" rx="1.8" ry="3" fill="#5e4c40" fill-opacity="0.6"/><ellipse cx="738.2" cy="504.0" rx="2.8" ry="3.3" fill="#2e2820"/><ellipse cx="744.0" cy="504.0" rx="2.8" ry="3.3" fill="#2e2820"/><ellipse cx="738.5" cy="504.8" rx="1.2" ry="1.4" fill="#c8c8a8" fill-opacity="0.35"/><ellipse cx="743.7" cy="504.8" rx="1.2" ry="1.4" fill="#c8c8a8" fill-opacity="0.35"/></g><g filter="url(#soft)"><path d="M772.0,493.5 Q777.0,490.5 782.0,493.5 L785.5,517.7 Q786.5,540.7 781.2,543.7 L772.8,543.7 Q767.5,540.7 768.5,517.7 Z" fill="#e2dcbc" fill-opacity="0.32" stroke="#ece8d2" stroke-opacity="0.3" stroke-width="1"/><path d="M781.2,543.7 L778.6,599.0 L781.0,605.0 L773.0,605.0 L775.4,599.0 L772.8,543.7 Z" fill="#e2dcbc" fill-opacity="0.2" stroke="#ece8d2" stroke-opacity="0.2" stroke-width="1"/><path d="M777.0,521.8 C774.0,518.8 769.1,519.3 769.4,526.4 C769.8,533.6 773.2,537.1 777.0,537.1 C780.8,537.1 784.2,533.6 784.6,526.4 C784.9,519.3 780.0,518.8 777.0,521.8 Z" fill="#4e3e32"/><path d="M771.7,532.2 Q777.0,534.4 782.3,532.2" stroke="#ffffff" stroke-opacity="0.1" stroke-width="1.4" fill="none"/><ellipse cx="774.4" cy="527.3" rx="2.3" ry="3.1" fill="#000" fill-opacity="0.08"/><ellipse cx="779.6" cy="527.3" rx="2.3" ry="3.1" fill="#000" fill-opacity="0.08"/><ellipse cx="777.0" cy="515.8" rx="1.8" ry="3" fill="#4e3e32" fill-opacity="0.6"/><ellipse cx="774.1" cy="499.5" rx="2.8" ry="3.3" fill="#4a4a34"/><ellipse cx="779.9" cy="499.5" rx="2.8" ry="3.3" fill="#4a4a34"/><ellipse cx="774.4" cy="500.3" rx="1.2" ry="1.4" fill="#c8c8a8" fill-opacity="0.35"/><ellipse cx="779.6" cy="500.3" rx="1.2" ry="1.4" fill="#c8c8a8" fill-opacity="0.35"/></g><g filter="url(#soft)"><path d="M804.0,498.0 Q809.0,495.0 814.0,498.0 L817.5,521.2 Q818.5,544.2 813.2,547.2 L804.8,547.2 Q799.5,544.2 800.5,521.2 Z" fill="#e2dcbc" fill-opacity="0.32" stroke="#ece8d2" stroke-opacity="0.3" stroke-width="1"/><path d="M813.2,547.2 L810.6,606.0 L813.0,612.0 L805.0,612.0 L807.4,606.0 L804.8,547.2 Z" fill="#e2dcbc" fill-opacity="0.2" stroke="#ece8d2" stroke-opacity="0.2" stroke-width="1"/><path d="M809.0,525.3 C806.0,522.3 801.1,522.8 801.4,529.9 C801.8,537.1 805.2,540.6 809.0,540.6 C812.8,540.6 816.2,537.1 816.6,529.9 C816.9,522.8 812.0,522.3 809.0,525.3 Z" fill="#9a6a34"/><path d="M803.7,535.7 Q809.0,537.9 814.3,535.7" stroke="#ffffff" stroke-opacity="0.1" stroke-width="1.4" fill="none"/><ellipse cx="806.4" cy="530.8" rx="2.3" ry="3.1" fill="#000" fill-opacity="0.08"/><ellipse cx="811.6" cy="530.8" rx="2.3" ry="3.1" fill="#000" fill-opacity="0.08"/><ellipse cx="809.0" cy="519.3" rx="1.8" ry="3" fill="#9a6a34" fill-opacity="0.6"/><ellipse cx="806.1" cy="504.0" rx="2.8" ry="3.3" fill="#6a6a50"/><ellipse cx="811.9" cy="504.0" rx="2.8" ry="3.3" fill="#6a6a50"/><ellipse cx="806.4" cy="504.8" rx="1.2" ry="1.4" fill="#c8c8a8" fill-opacity="0.35"/><ellipse cx="811.6" cy="504.8" rx="1.2" ry="1.4" fill="#c8c8a8" fill-opacity="0.35"/></g></g>
<g><rect x="855.9" y="482.0" width="32.1" height="137.5" fill="#a3ab98" filter="url(#tex)"/><rect x="888.0" y="482.0" width="37.0" height="137.5" fill="#aeae9f" filter="url(#tex)"/><rect x="925.0" y="482.0" width="26.8" height="137.5" fill="#a6aa9c" filter="url(#tex)"/><g filter="url(#soft)"><path d="M865.6,495.3 Q870.6,492.3 875.6,495.3 L878.6,520.5 Q879.6,541.5 874.8,544.5 L866.4,544.5 Q861.6,541.5 862.6,520.5 Z" fill="#e2dcbc" fill-opacity="0.32" stroke="#ece8d2" stroke-opacity="0.3" stroke-width="1"/><path d="M874.8,544.5 L872.2,606.0 L874.6,612.0 L866.6,612.0 L869.0,606.0 L866.4,544.5 Z" fill="#e2dcbc" fill-opacity="0.2" stroke="#ece8d2" stroke-opacity="0.2" stroke-width="1"/><path d="M870.6,530.0 L870.6,565.0" stroke="#7e5a30" stroke-width="2" fill="none"/><path d="M870.6,524.3 C867.8,521.7 863.2,522.1 863.6,528.4 C863.9,534.7 867.1,537.9 870.6,537.9 C874.1,537.9 877.3,534.7 877.6,528.4 C878.0,522.1 873.4,521.7 870.6,524.3 Z" fill="#5e4c3a"/><path d="M865.7,533.5 Q870.6,535.5 875.5,533.5" stroke="#ffffff" stroke-opacity="0.1" stroke-width="1.4" fill="none"/><ellipse cx="868.1" cy="529.2" rx="2.1" ry="2.8" fill="#000" fill-opacity="0.08"/><ellipse cx="873.1" cy="529.2" rx="2.1" ry="2.8" fill="#000" fill-opacity="0.08"/><ellipse cx="870.6" cy="518.6" rx="1.8" ry="3" fill="#5e4c3a" fill-opacity="0.6"/><ellipse cx="867.7" cy="501.3" rx="2.8" ry="3.3" fill="#4a4a34"/><ellipse cx="873.5" cy="501.3" rx="2.8" ry="3.3" fill="#4a4a34"/><ellipse cx="868.0" cy="502.1" rx="1.2" ry="1.4" fill="#c8c8a8" fill-opacity="0.35"/><ellipse cx="873.2" cy="502.1" rx="1.2" ry="1.4" fill="#c8c8a8" fill-opacity="0.35"/></g><g filter="url(#soft)"><path d="M902.0,494.4 Q907.0,491.4 912.0,494.4 L916.0,518.5 Q917.0,541.5 911.2,544.5 L902.8,544.5 Q897.0,541.5 898.0,518.5 Z" fill="#e2dcbc" fill-opacity="0.32" stroke="#ece8d2" stroke-opacity="0.3" stroke-width="1"/><path d="M911.2,544.5 L908.6,606.0 L911.0,612.0 L903.0,612.0 L905.4,606.0 L902.8,544.5 Z" fill="#e2dcbc" fill-opacity="0.2" stroke="#ece8d2" stroke-opacity="0.2" stroke-width="1"/><path d="M907.0,522.6 C903.8,519.6 898.5,520.1 898.9,527.2 C899.3,534.4 903.0,537.9 907.0,537.9 C911.0,537.9 914.7,534.4 915.1,527.2 C915.5,520.1 910.2,519.6 907.0,522.6 Z" fill="#7a4a2a"/><path d="M901.3,533.0 Q907.0,535.2 912.7,533.0" stroke="#ffffff" stroke-opacity="0.1" stroke-width="1.4" fill="none"/><ellipse cx="904.2" cy="528.1" rx="2.4" ry="3.1" fill="#000" fill-opacity="0.08"/><ellipse cx="909.8" cy="528.1" rx="2.4" ry="3.1" fill="#000" fill-opacity="0.08"/><ellipse cx="907.0" cy="516.6" rx="1.8" ry="3" fill="#7a4a2a" fill-opacity="0.6"/><ellipse cx="904.1" cy="500.4" rx="2.8" ry="3.3" fill="#4a4a34"/><ellipse cx="909.9" cy="500.4" rx="2.8" ry="3.3" fill="#4a4a34"/><ellipse cx="904.4" cy="501.2" rx="1.2" ry="1.4" fill="#c8c8a8" fill-opacity="0.35"/><ellipse cx="909.6" cy="501.2" rx="1.2" ry="1.4" fill="#c8c8a8" fill-opacity="0.35"/></g><g filter="url(#soft)"><path d="M933.2,486.3 Q938.2,483.3 943.2,486.3 L947.7,510.9 Q948.7,534.9 942.4,537.9 L934.0,537.9 Q927.7,534.9 928.7,510.9 Z" fill="#e2dcbc" fill-opacity="0.32" stroke="#ece8d2" stroke-opacity="0.3" stroke-width="1"/><path d="M942.4,537.9 L939.8,606.0 L942.2,612.0 L934.2,612.0 L936.6,606.0 L934.0,537.9 Z" fill="#e2dcbc" fill-opacity="0.2" stroke="#ece8d2" stroke-opacity="0.2" stroke-width="1"/><path d="M938.2,521.9 L938.2,565.0" stroke="#7e5a30" stroke-width="2" fill="none"/><path d="M938.2,515.1 C934.7,512.0 929.1,512.4 929.6,520.0 C930.0,527.6 933.9,531.4 938.2,531.4 C942.5,531.4 946.4,527.6 946.8,520.0 C947.3,512.4 941.7,512.0 938.2,515.1 Z" fill="#84441e"/><path d="M932.2,526.2 Q938.2,528.5 944.2,526.2" stroke="#ffffff" stroke-opacity="0.1" stroke-width="1.4" fill="none"/><ellipse cx="935.2" cy="521.0" rx="2.6" ry="3.3" fill="#000" fill-opacity="0.08"/><ellipse cx="941.2" cy="521.0" rx="2.6" ry="3.3" fill="#000" fill-opacity="0.08"/><ellipse cx="938.2" cy="508.9" rx="1.8" ry="3" fill="#84441e" fill-opacity="0.6"/><ellipse cx="935.3" cy="492.3" rx="2.8" ry="3.3" fill="#4a4a34"/><ellipse cx="941.1" cy="492.3" rx="2.8" ry="3.3" fill="#4a4a34"/><ellipse cx="935.6" cy="493.1" rx="1.2" ry="1.4" fill="#c8c8a8" fill-opacity="0.35"/><ellipse cx="940.8" cy="493.1" rx="1.2" ry="1.4" fill="#c8c8a8" fill-opacity="0.35"/></g></g>
<g><rect x="979.9" y="482.0" width="32.1" height="137.5" fill="#b4b4a4" filter="url(#tex)"/><rect x="1012.0" y="482.0" width="31.0" height="137.5" fill="#b2b9b8" filter="url(#tex)"/><rect x="1043.0" y="482.0" width="27.9" height="137.5" fill="#b8baae" filter="url(#tex)"/><g filter="url(#soft)"><path d="M991.9,500.3 Q996.9,497.3 1001.9,500.3 L1006.4,524.5 Q1007.4,547.5 1001.1,550.5 L992.7,550.5 Q986.4,547.5 987.4,524.5 Z" fill="#e2dcbc" fill-opacity="0.32" stroke="#ece8d2" stroke-opacity="0.3" stroke-width="1"/><path d="M1001.1,550.5 L998.5,608.0 L1000.9,614.0 L992.9,614.0 L995.3,608.0 L992.7,550.5 Z" fill="#e2dcbc" fill-opacity="0.2" stroke="#ece8d2" stroke-opacity="0.2" stroke-width="1"/><path d="M996.9,535.0 L996.9,560.0" stroke="#7e5a30" stroke-width="2" fill="none"/><path d="M996.9,528.6 C993.4,525.6 987.8,526.1 988.3,533.2 C988.7,540.4 992.6,543.9 996.9,543.9 C1001.2,543.9 1005.1,540.4 1005.5,533.2 C1006.0,526.1 1000.4,525.6 996.9,528.6 Z" fill="#8a5a2a"/><path d="M990.9,539.0 Q996.9,541.2 1002.9,539.0" stroke="#ffffff" stroke-opacity="0.1" stroke-width="1.4" fill="none"/><ellipse cx="993.9" cy="534.1" rx="2.6" ry="3.1" fill="#000" fill-opacity="0.08"/><ellipse cx="999.9" cy="534.1" rx="2.6" ry="3.1" fill="#000" fill-opacity="0.08"/><ellipse cx="996.9" cy="522.6" rx="1.8" ry="3" fill="#8a5a2a" fill-opacity="0.6"/><ellipse cx="994.0" cy="506.3" rx="2.8" ry="3.3" fill="#5a5a40"/><ellipse cx="999.8" cy="506.3" rx="2.8" ry="3.3" fill="#5a5a40"/><ellipse cx="994.3" cy="507.1" rx="1.2" ry="1.4" fill="#c8c8a8" fill-opacity="0.35"/><ellipse cx="999.5" cy="507.1" rx="1.2" ry="1.4" fill="#c8c8a8" fill-opacity="0.35"/></g><g filter="url(#soft)"><path d="M1025.0,508.7 Q1030.0,505.7 1035.0,508.7 L1039.0,531.6 Q1040.0,553.6 1034.2,556.6 L1025.8,556.6 Q1020.0,553.6 1021.0,531.6 Z" fill="#e2dcbc" fill-opacity="0.32" stroke="#ece8d2" stroke-opacity="0.3" stroke-width="1"/><path d="M1034.2,556.6 L1031.6,594.0 L1034.0,600.0 L1026.0,600.0 L1028.4,594.0 L1025.8,556.6 Z" fill="#e2dcbc" fill-opacity="0.2" stroke="#ece8d2" stroke-opacity="0.2" stroke-width="1"/><path d="M1030.0,541.6 L1030.0,580.0" stroke="#7e5a30" stroke-width="2" fill="none"/><path d="M1030.0,535.6 C1026.8,532.8 1021.5,533.2 1021.9,539.9 C1022.3,546.6 1026.0,550.0 1030.0,550.0 C1034.0,550.0 1037.7,546.6 1038.1,539.9 C1038.5,533.2 1033.2,532.8 1030.0,535.6 Z" fill="#3e3c3a"/><path d="M1024.3,545.4 Q1030.0,547.5 1035.7,545.4" stroke="#ffffff" stroke-opacity="0.1" stroke-width="1.4" fill="none"/><ellipse cx="1027.2" cy="540.8" rx="2.4" ry="2.9" fill="#000" fill-opacity="0.08"/><ellipse cx="1032.8" cy="540.8" rx="2.4" ry="2.9" fill="#000" fill-opacity="0.08"/><ellipse cx="1030.0" cy="529.7" rx="1.8" ry="3" fill="#3e3c3a" fill-opacity="0.6"/><ellipse cx="1027.1" cy="514.7" rx="2.8" ry="3.3" fill="#5a5a40"/><ellipse cx="1032.9" cy="514.7" rx="2.8" ry="3.3" fill="#5a5a40"/><ellipse cx="1027.4" cy="515.5" rx="1.2" ry="1.4" fill="#c8c8a8" fill-opacity="0.35"/><ellipse cx="1032.6" cy="515.5" rx="1.2" ry="1.4" fill="#c8c8a8" fill-opacity="0.35"/></g><g filter="url(#soft)"><path d="M1051.0,494.4 Q1056.0,491.4 1061.0,494.4 L1065.0,520.0 Q1066.0,540.0 1060.2,543.0 L1051.8,543.0 Q1046.0,540.0 1047.0,520.0 Z" fill="#e2dcbc" fill-opacity="0.32" stroke="#ece8d2" stroke-opacity="0.3" stroke-width="1"/><path d="M1060.2,543.0 L1057.6,608.0 L1060.0,614.0 L1052.0,614.0 L1054.4,608.0 L1051.8,543.0 Z" fill="#e2dcbc" fill-opacity="0.2" stroke="#ece8d2" stroke-opacity="0.2" stroke-width="1"/><path d="M1056.0,529.0 L1056.0,610.0" stroke="#7e5a30" stroke-width="2" fill="none"/><path d="M1056.0,523.7 C1052.8,521.3 1047.5,521.6 1047.9,527.5 C1048.3,533.4 1052.0,536.4 1056.0,536.4 C1060.0,536.4 1063.7,533.4 1064.1,527.5 C1064.5,521.6 1059.2,521.3 1056.0,523.7 Z" fill="#4e3c32"/><path d="M1050.3,532.3 Q1056.0,534.1 1061.7,532.3" stroke="#ffffff" stroke-opacity="0.1" stroke-width="1.4" fill="none"/><ellipse cx="1053.2" cy="528.3" rx="2.4" ry="2.6" fill="#000" fill-opacity="0.08"/><ellipse cx="1058.8" cy="528.3" rx="2.4" ry="2.6" fill="#000" fill-opacity="0.08"/><ellipse cx="1056.0" cy="518.1" rx="1.8" ry="3" fill="#4e3c32" fill-opacity="0.6"/><ellipse cx="1053.1" cy="500.4" rx="2.8" ry="3.3" fill="#5a5a40"/><ellipse cx="1058.9" cy="500.4" rx="2.8" ry="3.3" fill="#5a5a40"/><ellipse cx="1053.4" cy="501.2" rx="1.2" ry="1.4" fill="#c8c8a8" fill-opacity="0.35"/><ellipse cx="1058.6" cy="501.2" rx="1.2" ry="1.4" fill="#c8c8a8" fill-opacity="0.35"/></g></g>
<g><rect x="585.1" y="651.4" width="38.6" height="136.1" fill="#a89f9a" filter="url(#tex)"/><rect x="623.7" y="651.4" width="34.5" height="136.1" fill="#a29a95" filter="url(#tex)"/><rect x="658.2" y="651.4" width="33.6" height="136.1" fill="#b0adab" filter="url(#tex)"/><g filter="url(#soft)"><path d="M597.5,656.7 Q602.5,653.7 607.5,656.7 L611.5,676.1 Q612.5,698.1 606.7,701.1 L598.3,701.1 Q592.5,698.1 593.5,676.1 Z" fill="#e2dcbc" fill-opacity="0.32" stroke="#ece8d2" stroke-opacity="0.3" stroke-width="1"/><path d="M606.7,701.1 L604.1,769.0 L606.5,775.0 L598.5,775.0 L600.9,769.0 L598.3,701.1 Z" fill="#e2dcbc" fill-opacity="0.2" stroke="#ece8d2" stroke-opacity="0.2" stroke-width="1"/><path d="M602.5,686.1 L602.5,763.7" stroke="#6e4420" stroke-width="2.6" fill="none"/><path d="M602.5,680.1 C599.3,677.3 594.0,677.7 594.4,684.4 C594.8,691.1 598.5,694.5 602.5,694.5 C606.5,694.5 610.2,691.1 610.6,684.4 C611.0,677.7 605.7,677.3 602.5,680.1 Z" fill="#9a6a42"/><path d="M596.8,689.9 Q602.5,692.0 608.2,689.9" stroke="#ffffff" stroke-opacity="0.1" stroke-width="1.4" fill="none"/><ellipse cx="599.7" cy="685.3" rx="2.4" ry="2.9" fill="#000" fill-opacity="0.08"/><ellipse cx="605.3" cy="685.3" rx="2.4" ry="2.9" fill="#000" fill-opacity="0.08"/><ellipse cx="602.5" cy="674.2" rx="1.8" ry="3" fill="#9a6a42" fill-opacity="0.6"/><ellipse cx="599.6" cy="662.7" rx="2.8" ry="3.3" fill="#151515"/><ellipse cx="605.4" cy="662.7" rx="2.8" ry="3.3" fill="#151515"/><ellipse cx="599.9" cy="663.5" rx="1.2" ry="1.4" fill="#c8c8a8" fill-opacity="0.35"/><ellipse cx="605.1" cy="663.5" rx="1.2" ry="1.4" fill="#c8c8a8" fill-opacity="0.35"/></g><g filter="url(#soft)"><path d="M632.5,659.5 Q637.5,656.5 642.5,659.5 L645.0,676.0 Q646.0,700.0 641.7,703.0 L633.3,703.0 Q629.0,700.0 630.0,676.0 Z" fill="#e2dcbc" fill-opacity="0.32" stroke="#ece8d2" stroke-opacity="0.3" stroke-width="1"/><path d="M641.7,703.0 L639.1,769.0 L641.5,775.0 L633.5,775.0 L635.9,769.0 L633.3,703.0 Z" fill="#e2dcbc" fill-opacity="0.2" stroke="#ece8d2" stroke-opacity="0.2" stroke-width="1"/><path d="M637.5,687.0 L637.5,765.5" stroke="#6e4420" stroke-width="2.6" fill="none"/><path d="M637.5,680.2 C634.9,677.1 630.7,677.5 631.0,685.1 C631.3,692.7 634.3,696.5 637.5,696.5 C640.7,696.5 643.7,692.7 644.0,685.1 C644.3,677.5 640.1,677.1 637.5,680.2 Z" fill="#6a4022"/><path d="M633.0,691.3 Q637.5,693.6 642.0,691.3" stroke="#ffffff" stroke-opacity="0.1" stroke-width="1.4" fill="none"/><ellipse cx="635.2" cy="686.1" rx="1.9" ry="3.3" fill="#000" fill-opacity="0.08"/><ellipse cx="639.8" cy="686.1" rx="1.9" ry="3.3" fill="#000" fill-opacity="0.08"/><ellipse cx="637.5" cy="674.0" rx="1.8" ry="3" fill="#6a4022" fill-opacity="0.6"/><ellipse cx="634.6" cy="665.5" rx="2.8" ry="3.3" fill="#151515"/><ellipse cx="640.4" cy="665.5" rx="2.8" ry="3.3" fill="#151515"/><ellipse cx="634.9" cy="666.3" rx="1.2" ry="1.4" fill="#c8c8a8" fill-opacity="0.35"/><ellipse cx="640.1" cy="666.3" rx="1.2" ry="1.4" fill="#c8c8a8" fill-opacity="0.35"/></g><g filter="url(#soft)"><path d="M672.7,667.9 Q677.7,664.9 682.7,667.9 L685.7,689.0 Q686.7,709.0 681.9,712.0 L673.5,712.0 Q668.7,709.0 669.7,689.0 Z" fill="#e2dcbc" fill-opacity="0.32" stroke="#ece8d2" stroke-opacity="0.3" stroke-width="1"/><path d="M681.9,712.0 L679.3,769.0 L681.7,775.0 L673.7,775.0 L676.1,769.0 L673.5,712.0 Z" fill="#e2dcbc" fill-opacity="0.2" stroke="#ece8d2" stroke-opacity="0.2" stroke-width="1"/><path d="M677.7,698.0 L677.7,765.5" stroke="#7a4a24" stroke-width="2.4" fill="none"/><path d="M677.7,692.7 C674.9,690.3 670.3,690.6 670.7,696.5 C671.0,702.4 674.2,705.4 677.7,705.4 C681.2,705.4 684.4,702.4 684.7,696.5 C685.1,690.6 680.5,690.3 677.7,692.7 Z" fill="#9a6032"/><path d="M672.8,701.3 Q677.7,703.1 682.6,701.3" stroke="#ffffff" stroke-opacity="0.1" stroke-width="1.4" fill="none"/><ellipse cx="675.2" cy="697.3" rx="2.1" ry="2.6" fill="#000" fill-opacity="0.08"/><ellipse cx="680.2" cy="697.3" rx="2.1" ry="2.6" fill="#000" fill-opacity="0.08"/><ellipse cx="677.7" cy="687.1" rx="1.8" ry="3" fill="#9a6032" fill-opacity="0.6"/><ellipse cx="674.8" cy="673.9" rx="2.8" ry="3.3" fill="#151515"/><ellipse cx="680.6" cy="673.9" rx="2.8" ry="3.3" fill="#151515"/><ellipse cx="675.1" cy="674.7" rx="1.2" ry="1.4" fill="#c8c8a8" fill-opacity="0.35"/><ellipse cx="680.3" cy="674.7" rx="1.2" ry="1.4" fill="#c8c8a8" fill-opacity="0.35"/></g></g>
<g><rect x="725.5" y="651.4" width="28.5" height="136.1" fill="#aaa99a" filter="url(#tex)"/><rect x="754.0" y="651.4" width="31.0" height="136.1" fill="#a6a8a0" filter="url(#tex)"/><rect x="785.0" y="651.4" width="42.8" height="136.1" fill="#acab9c" filter="url(#tex)"/><g filter="url(#soft)"><path d="M734.2,660.0 Q739.2,657.0 744.2,660.0 L748.2,681.9 Q749.2,705.9 743.4,708.9 L735.0,708.9 Q729.2,705.9 730.2,681.9 Z" fill="#e2dcbc" fill-opacity="0.32" stroke="#ece8d2" stroke-opacity="0.3" stroke-width="1"/><path d="M743.4,708.9 L740.8,776.0 L743.2,782.0 L735.2,782.0 L737.6,776.0 L735.0,708.9 Z" fill="#e2dcbc" fill-opacity="0.2" stroke="#ece8d2" stroke-opacity="0.2" stroke-width="1"/><path d="M739.2,686.1 C736.0,683.0 730.7,683.4 731.1,691.0 C731.5,698.6 735.2,702.4 739.2,702.4 C743.2,702.4 746.9,698.6 747.3,691.0 C747.7,683.4 742.4,683.0 739.2,686.1 Z" fill="#b08244"/><path d="M733.5,697.2 Q739.2,699.5 744.9,697.2" stroke="#ffffff" stroke-opacity="0.1" stroke-width="1.4" fill="none"/><ellipse cx="736.4" cy="692.0" rx="2.4" ry="3.3" fill="#000" fill-opacity="0.08"/><ellipse cx="742.0" cy="692.0" rx="2.4" ry="3.3" fill="#000" fill-opacity="0.08"/><ellipse cx="739.2" cy="679.9" rx="1.8" ry="3" fill="#b08244" fill-opacity="0.6"/><ellipse cx="736.3" cy="666.0" rx="2.8" ry="3.3" fill="#4a4a34"/><ellipse cx="742.1" cy="666.0" rx="2.8" ry="3.3" fill="#4a4a34"/><ellipse cx="736.6" cy="666.8" rx="1.2" ry="1.4" fill="#c8c8a8" fill-opacity="0.35"/><ellipse cx="741.8" cy="666.8" rx="1.2" ry="1.4" fill="#c8c8a8" fill-opacity="0.35"/></g><g filter="url(#soft)"><path d="M764.3,655.8 Q769.3,652.8 774.3,655.8 L777.8,680.6 Q778.8,704.6 773.5,707.6 L765.1,707.6 Q759.8,704.6 760.8,680.6 Z" fill="#e2dcbc" fill-opacity="0.32" stroke="#ece8d2" stroke-opacity="0.3" stroke-width="1"/><path d="M773.5,707.6 L770.9,774.0 L773.3,780.0 L765.3,780.0 L767.7,774.0 L765.1,707.6 Z" fill="#e2dcbc" fill-opacity="0.2" stroke="#ece8d2" stroke-opacity="0.2" stroke-width="1"/><path d="M769.3,684.8 C766.3,681.7 761.4,682.1 761.7,689.7 C762.1,697.3 765.5,701.1 769.3,701.1 C773.1,701.1 776.5,697.3 776.9,689.7 C777.2,682.1 772.3,681.7 769.3,684.8 Z" fill="#ac5a32"/><path d="M764.0,695.9 Q769.3,698.2 774.6,695.9" stroke="#ffffff" stroke-opacity="0.1" stroke-width="1.4" fill="none"/><ellipse cx="766.7" cy="690.7" rx="2.3" ry="3.3" fill="#000" fill-opacity="0.08"/><ellipse cx="771.9" cy="690.7" rx="2.3" ry="3.3" fill="#000" fill-opacity="0.08"/><ellipse cx="769.3" cy="678.6" rx="1.8" ry="3" fill="#ac5a32" fill-opacity="0.6"/><ellipse cx="766.4" cy="661.8" rx="2.8" ry="3.3" fill="#6a6a50"/><ellipse cx="772.2" cy="661.8" rx="2.8" ry="3.3" fill="#6a6a50"/><ellipse cx="766.7" cy="662.6" rx="1.2" ry="1.4" fill="#c8c8a8" fill-opacity="0.35"/><ellipse cx="771.9" cy="662.6" rx="1.2" ry="1.4" fill="#c8c8a8" fill-opacity="0.35"/></g></g>
<g><rect x="856.0" y="651.4" width="33.0" height="136.1" fill="#a8aaa2" filter="url(#tex)"/><rect x="889.0" y="651.4" width="34.0" height="136.1" fill="#acab9f" filter="url(#tex)"/><rect x="923.0" y="651.4" width="28.4" height="136.1" fill="#a6a8a0" filter="url(#tex)"/><g filter="url(#soft)"><path d="M871.5,660.9 Q876.5,657.9 881.5,660.9 L885.0,684.3 Q886.0,706.3 880.7,709.3 L872.3,709.3 Q867.0,706.3 868.0,684.3 Z" fill="#e2dcbc" fill-opacity="0.32" stroke="#ece8d2" stroke-opacity="0.3" stroke-width="1"/><path d="M880.7,709.3 L878.1,776.0 L880.5,782.0 L872.5,782.0 L874.9,776.0 L872.3,709.3 Z" fill="#e2dcbc" fill-opacity="0.2" stroke="#ece8d2" stroke-opacity="0.2" stroke-width="1"/><path d="M876.5,694.3 L876.5,771.0" stroke="#7e5a30" stroke-width="2" fill="none"/><path d="M876.5,688.3 C873.5,685.5 868.6,685.9 868.9,692.6 C869.3,699.3 872.7,702.7 876.5,702.7 C880.3,702.7 883.7,699.3 884.1,692.6 C884.4,685.9 879.5,685.5 876.5,688.3 Z" fill="#7a3a22"/><path d="M871.2,698.1 Q876.5,700.2 881.8,698.1" stroke="#ffffff" stroke-opacity="0.1" stroke-width="1.4" fill="none"/><ellipse cx="873.9" cy="693.5" rx="2.3" ry="2.9" fill="#000" fill-opacity="0.08"/><ellipse cx="879.1" cy="693.5" rx="2.3" ry="2.9" fill="#000" fill-opacity="0.08"/><ellipse cx="876.5" cy="682.4" rx="1.8" ry="3" fill="#7a3a22" fill-opacity="0.6"/><ellipse cx="873.6" cy="666.9" rx="2.8" ry="3.3" fill="#4a4a34"/><ellipse cx="879.4" cy="666.9" rx="2.8" ry="3.3" fill="#4a4a34"/><ellipse cx="873.9" cy="667.7" rx="1.2" ry="1.4" fill="#c8c8a8" fill-opacity="0.35"/><ellipse cx="879.1" cy="667.7" rx="1.2" ry="1.4" fill="#c8c8a8" fill-opacity="0.35"/></g><g filter="url(#soft)"><path d="M902.2,661.3 Q907.2,658.3 912.2,661.3 L915.7,684.3 Q916.7,706.3 911.4,709.3 L903.0,709.3 Q897.7,706.3 898.7,684.3 Z" fill="#e2dcbc" fill-opacity="0.32" stroke="#ece8d2" stroke-opacity="0.3" stroke-width="1"/><path d="M911.4,709.3 L908.8,776.0 L911.2,782.0 L903.2,782.0 L905.6,776.0 L903.0,709.3 Z" fill="#e2dcbc" fill-opacity="0.2" stroke="#ece8d2" stroke-opacity="0.2" stroke-width="1"/><path d="M907.2,688.3 C904.2,685.5 899.3,685.9 899.6,692.6 C900.0,699.3 903.4,702.7 907.2,702.7 C911.0,702.7 914.4,699.3 914.8,692.6 C915.1,685.9 910.2,685.5 907.2,688.3 Z" fill="#7a4a2a"/><path d="M901.9,698.1 Q907.2,700.2 912.5,698.1" stroke="#ffffff" stroke-opacity="0.1" stroke-width="1.4" fill="none"/><ellipse cx="904.6" cy="693.5" rx="2.3" ry="2.9" fill="#000" fill-opacity="0.08"/><ellipse cx="909.8" cy="693.5" rx="2.3" ry="2.9" fill="#000" fill-opacity="0.08"/><ellipse cx="907.2" cy="682.4" rx="1.8" ry="3" fill="#7a4a2a" fill-opacity="0.6"/><ellipse cx="904.3" cy="667.3" rx="2.8" ry="3.3" fill="#4a4a34"/><ellipse cx="910.1" cy="667.3" rx="2.8" ry="3.3" fill="#4a4a34"/><ellipse cx="904.6" cy="668.1" rx="1.2" ry="1.4" fill="#c8c8a8" fill-opacity="0.35"/><ellipse cx="909.8" cy="668.1" rx="1.2" ry="1.4" fill="#c8c8a8" fill-opacity="0.35"/></g><g filter="url(#soft)"><path d="M926.3,659.1 Q931.3,656.1 936.3,659.1 L939.8,681.6 Q940.8,703.6 935.5,706.6 L927.1,706.6 Q921.8,703.6 922.8,681.6 Z" fill="#e2dcbc" fill-opacity="0.32" stroke="#ece8d2" stroke-opacity="0.3" stroke-width="1"/><path d="M935.5,706.6 L932.9,764.0 L935.3,770.0 L927.3,770.0 L929.7,764.0 L927.1,706.6 Z" fill="#e2dcbc" fill-opacity="0.2" stroke="#ece8d2" stroke-opacity="0.2" stroke-width="1"/><path d="M931.3,691.6 L931.3,747.3" stroke="#7e5a30" stroke-width="2" fill="none"/><path d="M931.3,685.6 C928.3,682.8 923.4,683.2 923.7,689.9 C924.1,696.6 927.5,700.0 931.3,700.0 C935.1,700.0 938.5,696.6 938.9,689.9 C939.2,683.2 934.3,682.8 931.3,685.6 Z" fill="#7a3022"/><path d="M926.0,695.4 Q931.3,697.5 936.6,695.4" stroke="#ffffff" stroke-opacity="0.1" stroke-width="1.4" fill="none"/><ellipse cx="928.7" cy="690.8" rx="2.3" ry="2.9" fill="#000" fill-opacity="0.08"/><ellipse cx="933.9" cy="690.8" rx="2.3" ry="2.9" fill="#000" fill-opacity="0.08"/><ellipse cx="931.3" cy="679.7" rx="1.8" ry="3" fill="#7a3022" fill-opacity="0.6"/><ellipse cx="928.4" cy="665.1" rx="2.8" ry="3.3" fill="#4a4a34"/><ellipse cx="934.2" cy="665.1" rx="2.8" ry="3.3" fill="#4a4a34"/><ellipse cx="928.7" cy="665.9" rx="1.2" ry="1.4" fill="#c8c8a8" fill-opacity="0.35"/><ellipse cx="933.9" cy="665.9" rx="1.2" ry="1.4" fill="#c8c8a8" fill-opacity="0.35"/></g></g>
<g><rect x="980.0" y="651.4" width="37.0" height="136.1" fill="#b0b4a4" filter="url(#tex)"/><rect x="1017.0" y="651.4" width="28.0" height="136.1" fill="#b6b8ac" filter="url(#tex)"/><rect x="1045.0" y="651.4" width="25.9" height="136.1" fill="#b2b6a4" filter="url(#tex)"/><g filter="url(#soft)"><path d="M997.5,658.2 Q1002.5,655.2 1007.5,658.2 L1012.0,678.4 Q1013.0,701.4 1006.7,704.4 L998.3,704.4 Q992.0,701.4 993.0,678.4 Z" fill="#e2dcbc" fill-opacity="0.32" stroke="#ece8d2" stroke-opacity="0.3" stroke-width="1"/><path d="M1006.7,704.4 L1004.1,776.0 L1006.5,782.0 L998.5,782.0 L1000.9,776.0 L998.3,704.4 Z" fill="#e2dcbc" fill-opacity="0.2" stroke="#ece8d2" stroke-opacity="0.2" stroke-width="1"/><path d="M1002.5,688.9 L1002.5,720.0" stroke="#7e5a30" stroke-width="2" fill="none"/><path d="M1002.5,682.5 C999.0,679.5 993.4,680.0 993.9,687.1 C994.3,694.3 998.2,697.8 1002.5,697.8 C1006.8,697.8 1010.7,694.3 1011.1,687.1 C1011.6,680.0 1006.0,679.5 1002.5,682.5 Z" fill="#5e4439"/><path d="M996.5,692.9 Q1002.5,695.1 1008.5,692.9" stroke="#ffffff" stroke-opacity="0.1" stroke-width="1.4" fill="none"/><ellipse cx="999.5" cy="688.0" rx="2.6" ry="3.1" fill="#000" fill-opacity="0.08"/><ellipse cx="1005.5" cy="688.0" rx="2.6" ry="3.1" fill="#000" fill-opacity="0.08"/><ellipse cx="1002.5" cy="676.5" rx="1.8" ry="3" fill="#5e4439" fill-opacity="0.6"/><ellipse cx="999.6" cy="664.2" rx="2.8" ry="3.3" fill="#4a4a34"/><ellipse cx="1005.4" cy="664.2" rx="2.8" ry="3.3" fill="#4a4a34"/><ellipse cx="999.9" cy="665.0" rx="1.2" ry="1.4" fill="#c8c8a8" fill-opacity="0.35"/><ellipse cx="1005.1" cy="665.0" rx="1.2" ry="1.4" fill="#c8c8a8" fill-opacity="0.35"/></g><g filter="url(#soft)"><path d="M1029.9,666.4 Q1034.9,663.4 1039.9,666.4 L1044.9,685.1 Q1045.9,711.1 1039.1,714.1 L1030.7,714.1 Q1023.9,711.1 1024.9,685.1 Z" fill="#e2dcbc" fill-opacity="0.32" stroke="#ece8d2" stroke-opacity="0.3" stroke-width="1"/><path d="M1039.1,714.1 L1036.5,776.0 L1038.9,782.0 L1030.9,782.0 L1033.3,776.0 L1030.7,714.1 Z" fill="#e2dcbc" fill-opacity="0.2" stroke="#ece8d2" stroke-opacity="0.2" stroke-width="1"/><path d="M1034.9,689.5 C1031.2,686.1 1025.3,686.6 1025.7,695.0 C1026.2,703.4 1030.3,707.6 1034.9,707.6 C1039.5,707.6 1043.6,703.4 1044.1,695.0 C1044.5,686.6 1038.6,686.1 1034.9,689.5 Z" fill="#b07232"/><path d="M1028.5,701.8 Q1034.9,704.5 1041.3,701.8" stroke="#ffffff" stroke-opacity="0.1" stroke-width="1.4" fill="none"/><ellipse cx="1031.7" cy="696.1" rx="2.8" ry="3.7" fill="#000" fill-opacity="0.08"/><ellipse cx="1038.1" cy="696.1" rx="2.8" ry="3.7" fill="#000" fill-opacity="0.08"/><ellipse cx="1034.9" cy="683.1" rx="1.8" ry="3" fill="#b07232" fill-opacity="0.6"/><ellipse cx="1032.0" cy="672.4" rx="2.8" ry="3.3" fill="#4a4a34"/><ellipse cx="1037.8" cy="672.4" rx="2.8" ry="3.3" fill="#4a4a34"/><ellipse cx="1032.3" cy="673.2" rx="1.2" ry="1.4" fill="#c8c8a8" fill-opacity="0.35"/><ellipse cx="1037.5" cy="673.2" rx="1.2" ry="1.4" fill="#c8c8a8" fill-opacity="0.35"/></g><g filter="url(#soft)"><path d="M1054.5,654.0 Q1059.5,651.0 1064.5,654.0 L1069.0,678.9 Q1070.0,700.9 1063.7,703.9 L1055.3,703.9 Q1049.0,700.9 1050.0,678.9 Z" fill="#e2dcbc" fill-opacity="0.32" stroke="#ece8d2" stroke-opacity="0.3" stroke-width="1"/><path d="M1063.7,703.9 L1061.1,776.0 L1063.5,782.0 L1055.5,782.0 L1057.9,776.0 L1055.3,703.9 Z" fill="#e2dcbc" fill-opacity="0.2" stroke="#ece8d2" stroke-opacity="0.2" stroke-width="1"/><path d="M1059.5,682.9 C1056.0,680.1 1050.4,680.5 1050.9,687.2 C1051.3,693.9 1055.2,697.3 1059.5,697.3 C1063.8,697.3 1067.7,693.9 1068.1,687.2 C1068.6,680.5 1063.0,680.1 1059.5,682.9 Z" fill="#6a4232"/><path d="M1053.5,692.7 Q1059.5,694.8 1065.5,692.7" stroke="#ffffff" stroke-opacity="0.1" stroke-width="1.4" fill="none"/><ellipse cx="1056.5" cy="688.1" rx="2.6" ry="2.9" fill="#000" fill-opacity="0.08"/><ellipse cx="1062.5" cy="688.1" rx="2.6" ry="2.9" fill="#000" fill-opacity="0.08"/><ellipse cx="1059.5" cy="677.0" rx="1.8" ry="3" fill="#6a4232" fill-opacity="0.6"/><ellipse cx="1056.6" cy="660.0" rx="2.8" ry="3.3" fill="#4a4a34"/><ellipse cx="1062.4" cy="660.0" rx="2.8" ry="3.3" fill="#4a4a34"/><ellipse cx="1056.9" cy="660.8" rx="1.2" ry="1.4" fill="#c8c8a8" fill-opacity="0.35"/><ellipse cx="1062.1" cy="660.8" rx="1.2" ry="1.4" fill="#c8c8a8" fill-opacity="0.35"/></g></g>
<g transform="rotate(14 808.6 695.2)"><g filter="url(#soft)"><path d="M803.6,661.0 Q808.6,658.0 813.6,661.0 L816.1,685.2 Q817.1,707.2 816.1,710.2 L801.1,710.2 Q800.1,707.2 801.1,685.2 Z" fill="#e2dcbc" fill-opacity="0.32" stroke="#ece8d2" stroke-opacity="0.3" stroke-width="1"/><path d="M816.1,710.2 L810.2,776.0 L812.6,782.0 L804.6,782.0 L807.0,776.0 L801.1,710.2 Z" fill="#e2dcbc" fill-opacity="0.2" stroke="#ece8d2" stroke-opacity="0.2" stroke-width="1"/><path d="M808.6,689.2 C806.0,686.4 801.8,686.8 802.1,693.5 C802.4,700.2 805.4,703.6 808.6,703.6 C811.8,703.6 814.8,700.2 815.1,693.5 C815.4,686.8 811.2,686.4 808.6,689.2 Z" fill="#a06a32"/><path d="M804.1,699.0 Q808.6,701.1 813.1,699.0" stroke="#ffffff" stroke-opacity="0.1" stroke-width="1.4" fill="none"/><ellipse cx="806.3" cy="694.4" rx="1.9" ry="2.9" fill="#000" fill-opacity="0.08"/><ellipse cx="810.9" cy="694.4" rx="1.9" ry="2.9" fill="#000" fill-opacity="0.08"/><ellipse cx="808.6" cy="683.3" rx="1.8" ry="3" fill="#a06a32" fill-opacity="0.6"/><ellipse cx="805.7" cy="667.0" rx="2.8" ry="3.3" fill="#4a4a34"/><ellipse cx="811.5" cy="667.0" rx="2.8" ry="3.3" fill="#4a4a34"/><ellipse cx="806.0" cy="667.8" rx="1.2" ry="1.4" fill="#c8c8a8" fill-opacity="0.35"/><ellipse cx="811.2" cy="667.8" rx="1.2" ry="1.4" fill="#c8c8a8" fill-opacity="0.35"/></g></g>
<path d="M1101.7,516.3 L1066,516.3" stroke="#ee1a1a" stroke-width="1.4"/><path d="M1063,516.3 L1068.5,513.6 L1068.5,519 Z" fill="#ee1a1a"/>
<path d="M1099,530.8 L1066.9,530.8" stroke="#ee1a1a" stroke-width="1.4"/>
<path d="M1089.4,561.4 L1059,561.4" stroke="#ee1a1a" stroke-width="1.4"/><path d="M1057,561.4 L1061.5,559.3 L1061.5,563.5 Z" fill="#ee1a1a"/>
<text x="1103.3" y="518.8" font-size="13.6" stroke="#000" stroke-width="0.4">Stomach</text>
<text x="1102.3" y="535.7" font-size="13.6" stroke="#000" stroke-width="0.4">Hepatopancreas</text>
<text x="1094.0" y="567.2" font-size="13.7" stroke="#000" stroke-width="0.4">Midgut</text>
</svg>
</body></html>
